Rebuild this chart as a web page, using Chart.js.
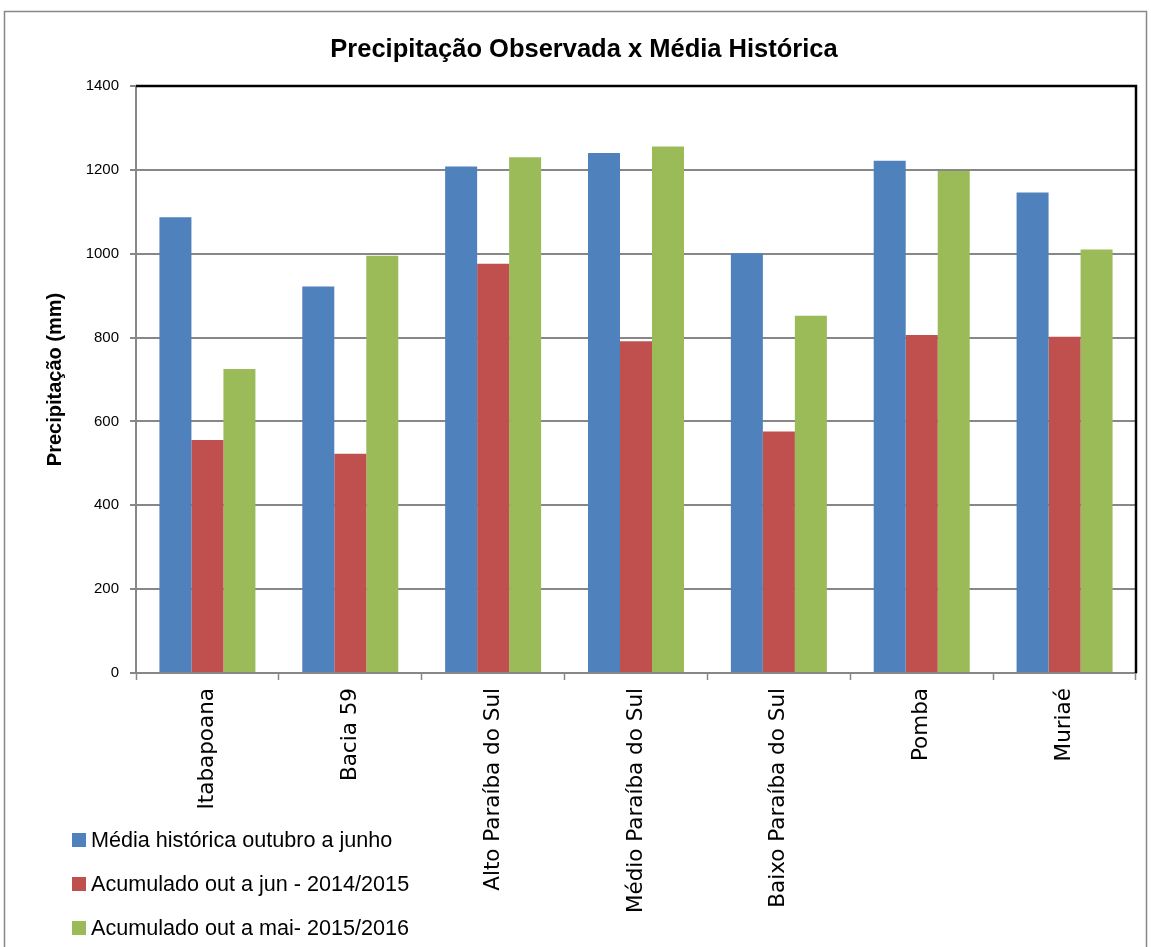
<!DOCTYPE html>
<html>
<head>
<meta charset="utf-8">
<script src="https://cdn.jsdelivr.net/npm/chart.js@4.4.1/dist/chart.umd.min.js"></script>
<style>
  body { margin: 0; background: #fff; }
  canvas { display: block; }
</style>
</head>
<body>
<canvas id="chuvaChart" width="1151" height="947"></canvas>
<script>
// categorias (sub-bacias)
const categorias = ["Itabapoana", "Bacia 59", "Alto Paraíba do Sul", "Médio Paraíba do Sul", "Baixo Paraíba do Sul", "Pomba", "Muriaé"];

// valores (mm)
const mediaHistorica = [1087, 922, 1208, 1240, 1001, 1222, 1146];
const acumulado1415 = [556, 523, 976, 791, 576, 806, 802];
const acumulado1516 = [725, 995, 1230, 1256, 852, 1197, 1010];

const nomesSeries = ["Média histórica outubro a junho", "Acumulado out a jun - 2014/2015", "Acumulado out a mai- 2015/2016"];
const coresSeries = ["#4F81BD", "#C0504D", "#9BBB59"];

const titulo = "Precipitação Observada x Média Histórica";
const tituloEixoY = "Precipitação (mm)";

// moldura externa, título, borda do gráfico e legenda vertical
const molduraPlugin = {
    id: "moldura",
    beforeDraw(chart) {
        const ctx = chart.ctx;
        ctx.save();
        ctx.fillStyle = "#ffffff";
        ctx.fillRect(0, 0, chart.width, chart.height);
        ctx.strokeStyle = "#878787";
        ctx.lineWidth = 1.5;
        ctx.strokeRect(4.5, 11.5, chart.width - 9, chart.height);
        ctx.restore();
    },
    afterDraw(chart) {
        const ctx = chart.ctx;
        const a = chart.chartArea;
        ctx.save();
        ctx.strokeStyle = "#000000";
        ctx.lineWidth = 2.5;
        ctx.beginPath();
        ctx.moveTo(a.left, a.top);
        ctx.lineTo(a.right, a.top);
        ctx.lineTo(a.right, a.bottom);
        ctx.stroke();

        // título (centrado como no original, um pouco à esquerda do centro)
        ctx.fillStyle = "#000000";
        ctx.font = "bold 25.5px 'Liberation Sans', Arial, sans-serif";
        ctx.textAlign = "center";
        ctx.textBaseline = "middle";
        ctx.fillText(titulo, 584, 50);

        // legenda
        ctx.textAlign = "left";
        ctx.font = "21.6px 'Liberation Sans', Arial, sans-serif";
        chart.data.datasets.forEach((ds, i) => {
            const y = 840 + i * 44;
            ctx.fillStyle = ds.backgroundColor;
            ctx.fillRect(72, y - 7, 14, 14);
            ctx.fillStyle = "#000000";
            ctx.fillText(ds.label, 91, y + 1);
        });
        ctx.restore();
    }
};

const ctx = document.getElementById("chuvaChart").getContext("2d");

new Chart(ctx, {
    type: "bar",
    data: {
        labels: categorias,
        datasets: [
            { label: nomesSeries[0], data: mediaHistorica, backgroundColor: coresSeries[0] },
            { label: nomesSeries[1], data: acumulado1415, backgroundColor: coresSeries[1] },
            { label: nomesSeries[2], data: acumulado1516, backgroundColor: coresSeries[2] }
        ]
    },
    options: {
        responsive: false,
        animation: false,
        layout: { padding: { left: 0, right: 15, top: 86, bottom: 0 } },
        datasets: {
            bar: { barPercentage: 1, categoryPercentage: 0.672 }
        },
        scales: {
            x: {
                grid: {
                    offset: true,
                    drawOnChartArea: false,
                    tickLength: 7,
                    tickColor: "#878787",
                    tickWidth: 1.5
                },
                border: { color: "#878787", width: 2 },
                ticks: {
                    color: "#000000",
                    font: { family: "'DejaVu Sans', Verdana, sans-serif", size: 21.5 },
                    minRotation: 90,
                    maxRotation: 90,
                    padding: 8
                },
                afterFit(scale) { scale.height = 274; }
            },
            y: {
                min: 0,
                max: 1400,
                ticks: {
                    stepSize: 200,
                    color: "#000000",
                    font: { family: "'Liberation Sans', Arial, sans-serif", size: 15 },
                    padding: 11,
                    callback: (v) => String(v)
                },
                grid: {
                    color: "#878787",
                    lineWidth: 2,
                    tickLength: 6
                },
                border: { color: "#878787", width: 2 },
                title: {
                    display: true,
                    text: tituloEixoY,
                    color: "#000000",
                    font: { family: "'Liberation Sans', Arial, sans-serif", size: 20, weight: "bold" },
                    padding: { top: 43, bottom: 0 }
                },
                afterFit(scale) { scale.width = 136; }
            }
        },
        plugins: {
            legend: { display: false },
            tooltip: { enabled: false },
            title: { display: false }
        }
    },
    plugins: [molduraPlugin]
});
</script>
</body>
</html>
